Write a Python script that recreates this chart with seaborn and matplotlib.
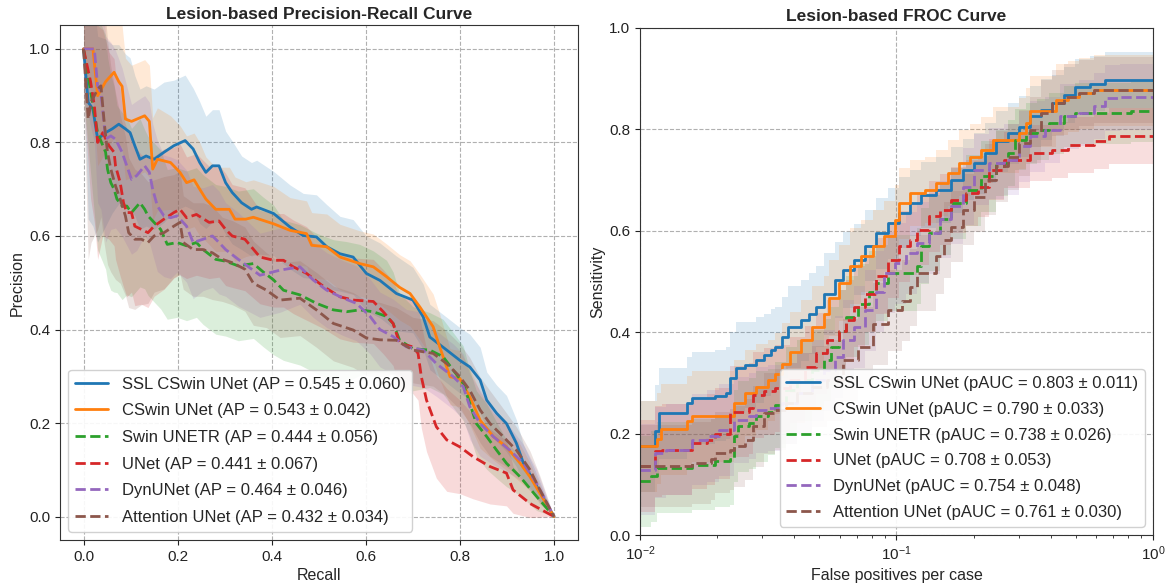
import numpy as np
import pandas as pd
import matplotlib
matplotlib.use("Agg")
import matplotlib.pyplot as plt
import seaborn as sns

# ---------------- data ----------------
models = ["SSL CSwin UNet", "CSwin UNet", "Swin UNETR", "UNet", "DynUNet", "Attention UNet"]
ap_labels = ["AP = 0.545 ± 0.060", "AP = 0.543 ± 0.042", "AP = 0.444 ± 0.056",
             "AP = 0.441 ± 0.067", "AP = 0.464 ± 0.046", "AP = 0.432 ± 0.034"]
pauc_labels = ["pAUC = 0.803 ± 0.011", "pAUC = 0.790 ± 0.033", "pAUC = 0.738 ± 0.026",
               "pAUC = 0.708 ± 0.053", "pAUC = 0.754 ± 0.048", "pAUC = 0.761 ± 0.030"]

# Precision-recall: recall, mean precision, band half-width
pr_ssl_r = [0, 0.01, 0.02, 0.03, 0.047, 0.061, 0.075, 0.089, 0.099, 0.109,
            0.12, 0.133, 0.15, 0.171, 0.192, 0.216, 0.233, 0.247, 0.26, 0.274,
            0.288, 0.302, 0.316, 0.336, 0.357, 0.368, 0.404, 0.439, 0.467, 0.495,
            0.517, 0.545, 0.573, 0.601, 0.63, 0.665, 0.70, 0.722, 0.736, 0.772,
            0.8, 0.821, 0.843, 0.857, 0.878, 0.899, 0.92, 0.935, 0.956, 1.0]
pr_ssl_p = [1.0, 0.886, 0.871, 0.807, 0.821, 0.829, 0.839, 0.829, 0.821, 0.793,
            0.764, 0.771, 0.764, 0.779, 0.793, 0.804, 0.786, 0.757, 0.736, 0.75,
            0.75, 0.714, 0.693, 0.671, 0.657, 0.662, 0.648, 0.619, 0.601, 0.598,
            0.577, 0.562, 0.555, 0.52, 0.505, 0.477, 0.463, 0.427, 0.384, 0.356,
            0.334, 0.32, 0.292, 0.249, 0.221, 0.199, 0.157, 0.114, 0.078, 0.0]
pr_ssl_sd = [0.05, 0.25, 0.25, 0.22, 0.2, 0.18, 0.17, 0.16, 0.16, 0.15,
             0.15, 0.15, 0.15, 0.15, 0.14, 0.14, 0.13, 0.13, 0.12, 0.12,
             0.12, 0.11, 0.11, 0.1, 0.1, 0.1, 0.09, 0.09, 0.09, 0.09,
             0.09, 0.08, 0.08, 0.08, 0.08, 0.08, 0.07, 0.07, 0.07, 0.07,
             0.07, 0.07, 0.07, 0.06, 0.06, 0.06, 0.05, 0.04, 0.03, 0.0]

pr_cswin_r = [0, 0.02, 0.03, 0.047, 0.065, 0.075, 0.082, 0.089, 0.102, 0.13,
              0.14, 0.147, 0.157, 0.185, 0.205, 0.219, 0.235, 0.247, 0.26, 0.281,
              0.31, 0.322, 0.345, 0.361, 0.404, 0.439, 0.474, 0.485, 0.517, 0.545,
              0.587, 0.616, 0.644, 0.672, 0.694, 0.715, 0.743, 0.757, 0.779, 0.8,
              0.821, 0.843, 0.871, 0.899, 0.928, 0.949, 1.0]
pr_cswin_p = [1.0, 1.0, 0.9, 0.93, 0.95, 0.93, 0.92, 0.85, 0.845, 0.857,
              0.845, 0.743, 0.764, 0.757, 0.736, 0.714, 0.72, 0.70, 0.679, 0.657,
              0.657, 0.636, 0.636, 0.64, 0.626, 0.612, 0.605, 0.58, 0.577, 0.555,
              0.541, 0.534, 0.513, 0.49, 0.477, 0.448, 0.406, 0.363, 0.299, 0.295,
              0.256, 0.206, 0.171, 0.149, 0.114, 0.085, 0.0]
pr_cswin_sd = [0.05, 0.1, 0.15, 0.15, 0.14, 0.14, 0.13, 0.13, 0.12, 0.12,
               0.12, 0.11, 0.11, 0.1, 0.1, 0.1, 0.1, 0.1, 0.09, 0.09,
               0.09, 0.09, 0.08, 0.08, 0.08, 0.07, 0.07, 0.07, 0.07, 0.07,
               0.07, 0.07, 0.07, 0.07, 0.07, 0.07, 0.07, 0.07, 0.06, 0.06,
               0.06, 0.06, 0.05, 0.05, 0.04, 0.03, 0.0]

pr_swin_r = [0, 0.03, 0.047, 0.051, 0.058, 0.065, 0.071, 0.082, 0.092, 0.102,
             0.12, 0.13, 0.137, 0.15, 0.164, 0.178, 0.199, 0.219, 0.24, 0.254,
             0.281, 0.302, 0.329, 0.361, 0.382, 0.404, 0.425, 0.46, 0.495, 0.531,
             0.559, 0.587, 0.616, 0.644, 0.658, 0.672, 0.70, 0.736, 0.764, 0.786,
             0.807, 0.821, 0.835, 0.857, 0.878, 0.899, 0.928, 0.963, 1.0]
pr_swin_p = [1.0, 0.82, 0.779, 0.743, 0.714, 0.7, 0.679, 0.664, 0.664, 0.65,
             0.671, 0.657, 0.643, 0.629, 0.614, 0.582, 0.586, 0.579, 0.586, 0.571,
             0.55, 0.546, 0.536, 0.541, 0.523, 0.506, 0.484, 0.474, 0.456, 0.442,
             0.438, 0.442, 0.438, 0.428, 0.413, 0.377, 0.359, 0.356, 0.342, 0.313,
             0.285, 0.242, 0.199, 0.171, 0.142, 0.114, 0.085, 0.043, 0.0]
pr_swin_sd = [0.1, 0.25, 0.25, 0.24, 0.23, 0.22, 0.2, 0.2, 0.19, 0.18,
              0.18, 0.17, 0.17, 0.17, 0.17, 0.16, 0.16, 0.16, 0.16, 0.16,
              0.16, 0.16, 0.16, 0.16, 0.16, 0.16, 0.15, 0.15, 0.15, 0.15,
              0.15, 0.14, 0.13, 0.12, 0.11, 0.1, 0.09, 0.08, 0.08, 0.08,
              0.08, 0.07, 0.07, 0.07, 0.06, 0.05, 0.04, 0.03, 0.0]

pr_unet_r = [0, 0.015, 0.023, 0.03, 0.041, 0.054, 0.065, 0.068, 0.078, 0.085,
             0.092, 0.102, 0.109, 0.123, 0.137, 0.15, 0.171, 0.192, 0.205, 0.219,
             0.24, 0.267, 0.288, 0.302, 0.316, 0.343, 0.375, 0.404, 0.425, 0.446,
             0.474, 0.51, 0.545, 0.573, 0.616, 0.637, 0.658, 0.672, 0.70, 0.711,
             0.718, 0.729, 0.75, 0.772, 0.8, 0.828, 0.864, 0.899, 0.913, 0.949, 1.0]
pr_unet_p = [1.0, 0.93, 0.879, 0.8, 0.821, 0.793, 0.779, 0.75, 0.714, 0.671,
             0.65, 0.65, 0.621, 0.614, 0.607, 0.621, 0.636, 0.65, 0.657, 0.639,
             0.646, 0.629, 0.632, 0.614, 0.6, 0.593, 0.555, 0.548, 0.548, 0.534,
             0.52, 0.492, 0.47, 0.463, 0.46, 0.438, 0.413, 0.37, 0.363, 0.349,
             0.299, 0.249, 0.192, 0.164, 0.149, 0.128, 0.107, 0.093, 0.057, 0.028, 0.0]
pr_unet_sd = [0.1, 0.25, 0.25, 0.25, 0.22, 0.2, 0.2, 0.2, 0.2, 0.18,
              0.18, 0.17, 0.17, 0.16, 0.16, 0.15, 0.15, 0.14, 0.14, 0.13,
              0.13, 0.12, 0.12, 0.12, 0.11, 0.11, 0.1, 0.1, 0.1, 0.1,
              0.1, 0.09, 0.09, 0.09, 0.09, 0.09, 0.09, 0.1, 0.1, 0.1,
              0.11, 0.11, 0.11, 0.11, 0.1, 0.09, 0.08, 0.07, 0.05, 0.03, 0.0]

pr_dyn_r = [0, 0.023, 0.03, 0.037, 0.047, 0.058, 0.068, 0.082, 0.092, 0.102,
            0.113, 0.13, 0.14, 0.147, 0.157, 0.171, 0.185, 0.199, 0.219, 0.233,
            0.254, 0.274, 0.288, 0.302, 0.329, 0.375, 0.418, 0.46, 0.488, 0.517,
            0.552, 0.58, 0.609, 0.63, 0.658, 0.686, 0.722, 0.75, 0.786, 0.807,
            0.821, 0.843, 0.871, 0.906, 0.935, 0.963, 1.0]
pr_dyn_p = [1.0, 1.0, 0.921, 0.907, 0.807, 0.814, 0.807, 0.779, 0.75, 0.721,
            0.729, 0.75, 0.736, 0.7, 0.664, 0.643, 0.639, 0.643, 0.621, 0.586,
            0.593, 0.6, 0.586, 0.571, 0.55, 0.516, 0.527, 0.534, 0.506, 0.484,
            0.467, 0.456, 0.428, 0.4, 0.385, 0.363, 0.356, 0.327, 0.299, 0.278,
            0.235, 0.199, 0.171, 0.142, 0.114, 0.071, 0.0]
pr_dyn_sd = [0.1, 0.2, 0.25, 0.25, 0.22, 0.2, 0.19, 0.18, 0.17, 0.16,
             0.16, 0.15, 0.15, 0.14, 0.14, 0.13, 0.13, 0.12, 0.12, 0.12,
             0.11, 0.11, 0.11, 0.1, 0.1, 0.09, 0.09, 0.08, 0.08, 0.08,
             0.08, 0.08, 0.08, 0.08, 0.08, 0.08, 0.08, 0.07, 0.07, 0.07,
             0.07, 0.07, 0.06, 0.05, 0.04, 0.03, 0.0]

pr_att_r = [0, 0.01, 0.016, 0.03, 0.037, 0.044, 0.051, 0.058, 0.068, 0.078,
            0.089, 0.096, 0.109, 0.123, 0.137, 0.15, 0.171, 0.192, 0.205, 0.212,
            0.233, 0.254, 0.274, 0.295, 0.316, 0.343, 0.361, 0.389, 0.418, 0.46,
            0.495, 0.531, 0.573, 0.601, 0.63, 0.665, 0.70, 0.743, 0.772, 0.8,
            0.821, 0.843, 0.864, 0.892, 0.92, 0.949, 0.97, 1.0]
pr_att_p = [1.0, 0.85, 0.886, 0.914, 0.921, 0.843, 0.779, 0.743, 0.707, 0.679,
            0.643, 0.607, 0.593, 0.593, 0.586, 0.6, 0.607, 0.621, 0.629, 0.586,
            0.571, 0.571, 0.564, 0.55, 0.543, 0.529, 0.499, 0.484, 0.463, 0.467,
            0.442, 0.413, 0.399, 0.382, 0.378, 0.377, 0.356, 0.349, 0.327, 0.299,
            0.27, 0.228, 0.199, 0.171, 0.142, 0.1, 0.057, 0.0]
pr_att_sd = [0.1, 0.3, 0.3, 0.3, 0.28, 0.26, 0.24, 0.22, 0.2, 0.18,
             0.17, 0.16, 0.15, 0.14, 0.13, 0.12, 0.12, 0.11, 0.11, 0.1,
             0.1, 0.1, 0.1, 0.09, 0.09, 0.09, 0.09, 0.08, 0.08, 0.08,
             0.08, 0.08, 0.08, 0.08, 0.08, 0.07, 0.07, 0.07, 0.07, 0.07,
             0.07, 0.07, 0.07, 0.06, 0.05, 0.04, 0.03, 0.0]

# FROC: false positives per case, mean sensitivity, band half-width
fr_ssl_x = [0.0100, 0.01144, 0.01183, 0.01523, 0.01602, 0.0196, 0.02169, 0.02243, 0.0236, 0.02567,
            0.0284, 0.03038, 0.03249, 0.03361, 0.03594, 0.0378, 0.04253, 0.04549, 0.04866, 0.05204,
            0.05758, 0.0616, 0.06813, 0.07538, 0.08341, 0.09225, 0.102, 0.1129, 0.1249, 0.1429,
            0.1635, 0.1809, 0.2001, 0.2214, 0.2449, 0.2709, 0.2997, 0.3315, 0.3667, 0.4056,
            0.4487, 0.4965, 0.5682, 0.6502, 1.0]
fr_ssl_s = [0.175, 0.205, 0.24, 0.26, 0.27, 0.275, 0.28, 0.31, 0.33, 0.335,
            0.345, 0.355, 0.365, 0.37, 0.39, 0.41, 0.423, 0.436, 0.45, 0.475,
            0.503, 0.523, 0.543, 0.57, 0.595, 0.615, 0.635, 0.654, 0.67, 0.68,
            0.70, 0.72, 0.733, 0.753, 0.776, 0.792, 0.805, 0.825, 0.838, 0.851,
            0.868, 0.884, 0.89, 0.897, 0.897]
fr_ssl_sd = [0.09, 0.09, 0.09, 0.09, 0.09, 0.09, 0.09, 0.09, 0.09, 0.085,
             0.085, 0.08, 0.08, 0.08, 0.08, 0.08, 0.08, 0.08, 0.08, 0.08,
             0.075, 0.075, 0.07, 0.07, 0.07, 0.07, 0.07, 0.065, 0.065, 0.065,
             0.065, 0.06, 0.06, 0.06, 0.06, 0.06, 0.06, 0.06, 0.06, 0.055,
             0.055, 0.055, 0.055, 0.055, 0.055]

fr_cswin_x = [0.01, 0.01163, 0.01204, 0.01523, 0.01602, 0.0232, 0.02567, 0.0284, 0.03142, 0.03361,
              0.03594, 0.03845, 0.04253, 0.04705, 0.05204, 0.05474, 0.05956, 0.0659, 0.07288, 0.08063,
              0.08921, 0.09867, 0.102, 0.1129, 0.1292, 0.1429, 0.1581, 0.1749, 0.1935, 0.2141,
              0.2368, 0.2997, 0.3205, 0.3315, 0.4195, 0.4642, 0.5134, 0.5875, 1.0]
fr_cswin_s = [0.175, 0.19, 0.208, 0.224, 0.234, 0.26, 0.28, 0.292, 0.305, 0.318,
              0.338, 0.36, 0.384, 0.41, 0.436, 0.467, 0.497, 0.53, 0.55, 0.57,
              0.589, 0.62, 0.654, 0.674, 0.68, 0.694, 0.713, 0.733, 0.746, 0.759,
              0.779, 0.792, 0.812, 0.835, 0.858, 0.864, 0.871, 0.877, 0.877]
fr_cswin_sd = [0.09, 0.09, 0.09, 0.09, 0.09, 0.085, 0.085, 0.085, 0.08, 0.08,
               0.08, 0.08, 0.08, 0.08, 0.075, 0.075, 0.075, 0.075, 0.07, 0.07,
               0.07, 0.07, 0.07, 0.065, 0.065, 0.065, 0.065, 0.065, 0.065, 0.065,
               0.065, 0.07, 0.07, 0.07, 0.07, 0.07, 0.07, 0.07, 0.07]

fr_swin_x = [0.01, 0.01106, 0.01163, 0.01602, 0.0196, 0.02243, 0.0232, 0.024, 0.02655, 0.0284,
             0.03142, 0.03361, 0.03717, 0.04111, 0.04705, 0.05204, 0.05567, 0.05956, 0.06371, 0.07047,
             0.07796, 0.08341, 0.09225, 0.1207, 0.1249, 0.1336, 0.1478, 0.1635, 0.1871, 0.2141,
             0.2449, 0.2709, 0.2897, 0.3205, 0.3545, 0.3922, 0.4487, 0.4965, 0.8226, 1.0]
fr_swin_s = [0.106, 0.116, 0.133, 0.139, 0.145, 0.149, 0.195, 0.214, 0.22, 0.234,
             0.243, 0.256, 0.286, 0.305, 0.325, 0.345, 0.37, 0.403, 0.43, 0.455,
             0.48, 0.497, 0.517, 0.53, 0.569, 0.595, 0.622, 0.654, 0.68, 0.707,
             0.733, 0.753, 0.779, 0.792, 0.799, 0.812, 0.825, 0.831, 0.835, 0.835]
fr_swin_sd = [0.09, 0.09, 0.09, 0.09, 0.09, 0.09, 0.09, 0.09, 0.09, 0.09,
              0.085, 0.085, 0.085, 0.08, 0.08, 0.08, 0.08, 0.08, 0.08, 0.08,
              0.08, 0.075, 0.075, 0.075, 0.075, 0.075, 0.07, 0.07, 0.07, 0.07,
              0.065, 0.065, 0.06, 0.06, 0.06, 0.06, 0.06, 0.06, 0.06, 0.06]

fr_unet_x = [0.01, 0.01144, 0.01224, 0.01602, 0.01833, 0.0196, 0.02243, 0.02655, 0.02746, 0.03038,
             0.03361, 0.03845, 0.04398, 0.04866, 0.05383, 0.05956, 0.06371, 0.06813, 0.07538, 0.08341,
             0.09225, 0.102, 0.1129, 0.1207, 0.1336, 0.1478, 0.1635, 0.1871, 0.207, 0.2289,
             0.2619, 0.3315, 0.4056, 0.4642, 0.5875, 0.6725, 1.0]
fr_unet_s = [0.136, 0.165, 0.168, 0.181, 0.188, 0.2, 0.243, 0.25, 0.276, 0.283,
             0.289, 0.305, 0.332, 0.358, 0.384, 0.403, 0.423, 0.45, 0.475, 0.51,
             0.543, 0.569, 0.582, 0.602, 0.628, 0.641, 0.661, 0.674, 0.687, 0.72,
             0.74, 0.753, 0.759, 0.769, 0.776, 0.786, 0.786]
fr_unet_sd = [0.09, 0.09, 0.09, 0.09, 0.09, 0.09, 0.09, 0.09, 0.085, 0.085,
              0.085, 0.085, 0.08, 0.08, 0.08, 0.08, 0.08, 0.08, 0.075, 0.075,
              0.075, 0.07, 0.07, 0.07, 0.07, 0.07, 0.065, 0.065, 0.06, 0.06,
              0.055, 0.055, 0.055, 0.055, 0.055, 0.055, 0.055]

fr_dyn_x = [0.01, 0.01144, 0.01266, 0.01602, 0.01833, 0.02028, 0.0232, 0.02655, 0.0284, 0.03142,
            0.03594, 0.04111, 0.04705, 0.05204, 0.05758, 0.0616, 0.06813, 0.07538, 0.08341, 0.08921,
            0.09867, 0.1091, 0.1207, 0.1336, 0.1478, 0.1635, 0.1809, 0.2001, 0.2289, 0.2619,
            0.2997, 0.3315, 0.3792, 0.4339, 0.5134, 0.5875, 0.6502, 0.7436, 1.0]
fr_dyn_s = [0.129, 0.162, 0.168, 0.188, 0.195, 0.207, 0.227, 0.234, 0.247, 0.25,
            0.26, 0.279, 0.305, 0.325, 0.351, 0.384, 0.41, 0.443, 0.48, 0.517,
            0.536, 0.556, 0.576, 0.595, 0.622, 0.648, 0.687, 0.72, 0.733, 0.74,
            0.766, 0.786, 0.799, 0.825, 0.831, 0.845, 0.861, 0.864, 0.864]
fr_dyn_sd = [0.09, 0.09, 0.09, 0.09, 0.09, 0.09, 0.085, 0.085, 0.085, 0.085,
             0.08, 0.08, 0.08, 0.08, 0.08, 0.08, 0.08, 0.08, 0.08, 0.08,
             0.08, 0.08, 0.08, 0.08, 0.075, 0.075, 0.075, 0.07, 0.07, 0.07,
             0.07, 0.07, 0.065, 0.065, 0.065, 0.065, 0.065, 0.065, 0.065]

fr_att_x = [0.01, 0.01602, 0.01896, 0.0196, 0.02243, 0.0232, 0.02567, 0.02746, 0.03038, 0.03361,
            0.03717, 0.04111, 0.04705, 0.05383, 0.0616, 0.07047, 0.08063, 0.09225, 0.1055, 0.1129,
            0.1207, 0.1429, 0.1528, 0.1635, 0.1809, 0.2001, 0.2214, 0.2449, 0.2709, 0.2997,
            0.3315, 0.3667, 0.4056, 0.4487, 0.5134, 0.5875, 1.0]
fr_att_s = [0.136, 0.142, 0.149, 0.162, 0.168, 0.175, 0.188, 0.214, 0.24, 0.247,
            0.26, 0.279, 0.292, 0.305, 0.345, 0.37, 0.416, 0.443, 0.462, 0.488,
            0.517, 0.55, 0.582, 0.608, 0.641, 0.667, 0.70, 0.727, 0.746, 0.772,
            0.799, 0.831, 0.851, 0.864, 0.871, 0.877, 0.877]
fr_att_sd = [0.08, 0.08, 0.08, 0.08, 0.08, 0.08, 0.08, 0.08, 0.08, 0.08,
             0.08, 0.08, 0.08, 0.08, 0.08, 0.08, 0.08, 0.08, 0.08, 0.075,
             0.075, 0.075, 0.075, 0.07, 0.07, 0.07, 0.07, 0.07, 0.065, 0.065,
             0.065, 0.065, 0.065, 0.065, 0.065, 0.065, 0.065]

pr_curves = [(pr_ssl_r, pr_ssl_p, pr_ssl_sd), (pr_cswin_r, pr_cswin_p, pr_cswin_sd),
             (pr_swin_r, pr_swin_p, pr_swin_sd), (pr_unet_r, pr_unet_p, pr_unet_sd),
             (pr_dyn_r, pr_dyn_p, pr_dyn_sd), (pr_att_r, pr_att_p, pr_att_sd)]
froc_curves = [(fr_ssl_x, fr_ssl_s, fr_ssl_sd), (fr_cswin_x, fr_cswin_s, fr_cswin_sd),
               (fr_swin_x, fr_swin_s, fr_swin_sd), (fr_unet_x, fr_unet_s, fr_unet_sd),
               (fr_dyn_x, fr_dyn_s, fr_dyn_sd), (fr_att_x, fr_att_s, fr_att_sd)]

# ---------------- style ----------------
sns.set_style("ticks")
plt.rcParams["font.family"] = ["Liberation Sans", "DejaVu Sans"]
plt.rcParams["xtick.major.size"] = 3.5
plt.rcParams["ytick.major.size"] = 3.5
plt.rcParams["xtick.minor.size"] = 2
plt.rcParams["xtick.color"] = "#222222"
plt.rcParams["ytick.color"] = "#222222"
colors = sns.color_palette("tab10", 6)
styles = ["-", "-", "--", "--", "--", "--"]

fig = plt.figure(figsize=(11.67, 5.86), dpi=100)
ax1 = fig.add_axes([0.0514, 0.0785, 0.4435, 0.878])
ax2 = fig.add_axes([0.5484, 0.0870, 0.4396, 0.8657])

# ---------------- PR ----------------
for i, (r, p, sd) in enumerate(pr_curves):
    r = np.asarray(r); p = np.asarray(p); sd = np.asarray(sd)
    ax1.fill_between(r, p - sd, p + sd, color=colors[i], alpha=0.17, linewidth=0)
for i, (r, p, sd) in enumerate(pr_curves):
    df = pd.DataFrame({"Recall": r, "Precision": p})
    sns.lineplot(data=df, x="Recall", y="Precision", ax=ax1, color=colors[i],
                 linestyle=styles[i], linewidth=2, estimator=None, sort=False,
                 label=f"{models[i]} ({ap_labels[i]})")
ax1.set_xlim(-0.05, 1.05)
ax1.set_ylim(-0.05, 1.05)
ax1.set_xticks([0.0, 0.2, 0.4, 0.6, 0.8, 1.0])
ax1.set_yticks([0.0, 0.2, 0.4, 0.6, 0.8, 1.0])
ax1.set_xlabel("Recall", fontsize=11.5, labelpad=3)
ax1.set_ylabel("Precision", fontsize=11.5, labelpad=3)
ax1.set_title("Lesion-based Precision-Recall Curve", fontsize=12.5, fontweight="bold", pad=5)
ax1.grid(True, linestyle="--", color="#b0b0b0", linewidth=0.8)
ax1.legend(loc="lower left", fontsize=12, frameon=True, framealpha=0.9, labelspacing=0.7)

# ---------------- FROC ----------------
for i, (x, s, sd) in enumerate(froc_curves):
    x = np.asarray(x); s = np.asarray(s); sd = np.asarray(sd)
    ax2.fill_between(x, s - sd, s + sd, step="post", color=colors[i], alpha=0.15, linewidth=0)
for i, (x, s, sd) in enumerate(froc_curves):
    df = pd.DataFrame({"FP": x, "Sens": s})
    sns.lineplot(data=df, x="FP", y="Sens", ax=ax2, color=colors[i],
                 linestyle=styles[i], linewidth=2, estimator=None, sort=False,
                 drawstyle="steps-post",
                 label=f"{models[i]} ({pauc_labels[i]})")
ax2.set_xscale("log")
ax2.set_xlim(0.01, 1.0)
ax2.set_ylim(0.0, 1.0)
ax2.set_yticks([0.0, 0.2, 0.4, 0.6, 0.8, 1.0])
ax2.set_xlabel("False positives per case", fontsize=11.5, labelpad=3)
ax2.set_ylabel("Sensitivity", fontsize=11.5, labelpad=3)
ax2.set_title("Lesion-based FROC Curve", fontsize=12.5, fontweight="bold", pad=5)
ax2.grid(True, which="major", linestyle="--", color="#b0b0b0", linewidth=0.8)
ax2.legend(loc="lower right", fontsize=12, frameon=True, framealpha=0.9, labelspacing=0.65)

for ax in (ax1, ax2):
    ax.tick_params(labelsize=11)
    for sp in ax.spines.values():
        sp.set_color("#333333")

fig.savefig("out.png", dpi=100)
